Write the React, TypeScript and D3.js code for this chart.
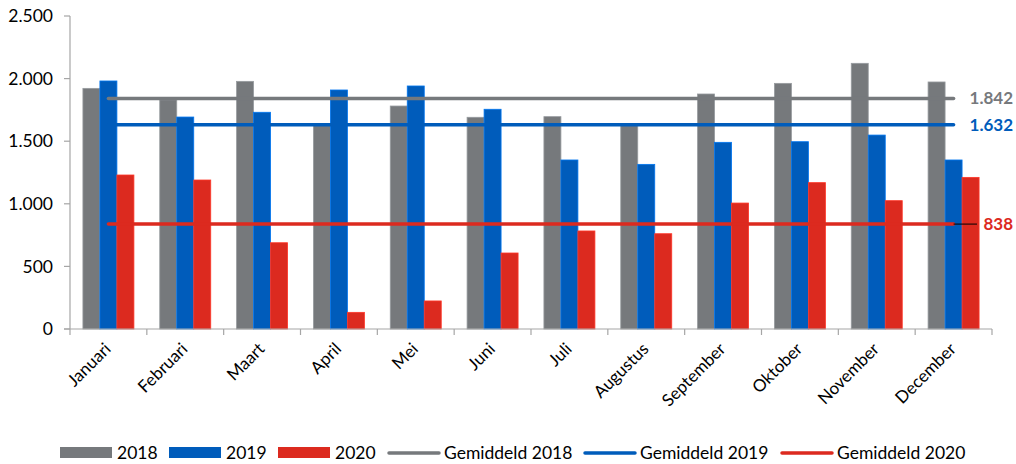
import React from "react";
import * as d3 from "d3";

const months = ["Januari","Februari","Maart","April","Mei","Juni","Juli","Augustus","September","Oktober","November","December"];
const series = ["2018","2019","2020"];
const values2018 = [1922,1830,1978,1625,1781,1691,1696,1635,1877,1962,2122,1973];
const values2019 = [1981,1693,1731,1909,1941,1755,1350,1315,1491,1496,1549,1350];
const values2020 = [1230,1190,689,133,224,607,783,761,1006,1169,1025,1211];
const averages = [1842,1632,838];
const averageLabels = ["1.842","1.632","838"];
const yTicks = [0,500,1000,1500,2000,2500];
const colors = ["#76797c","#005cbb","#dc2a1f"];
const legendItems = ["2018","2019","2020","Gemiddeld 2018","Gemiddeld 2019","Gemiddeld 2020"];

const W = 1016, H = 464;
const FONT = "Lato, 'Noto Sans', sans-serif";

export default function App() {
  const x0 = d3.scaleBand<string>().domain(months).range([70, 992]).paddingInner(0).paddingOuter(0);
  const x1 = d3.scaleBand<string>().domain(series).range([0, x0.bandwidth()]).paddingInner(0).paddingOuter(0.76);
  const y = d3.scaleLinear().domain([0, 2500]).range([329, 16]);
  const data = [values2018, values2019, values2020];
  const fmt = (v: number) => d3.format(",")(v).replace(/,/g, ".");
  const cx = (m: string) => (x0(m) as number) + x0.bandwidth() / 2;
  const avgX1 = cx(months[0]);
  const avgX2 = cx(months[months.length - 1]);

  const legendX = [60, 169, 278, 387, 583, 780];

  return (
    <svg width={W} height={H} style={{ position: "absolute", left: 0, top: 0, background: "#fff" }} fontFamily={FONT}>
      <rect x={0} y={0} width={W} height={H} fill="#fff" />
      {/* bars */}
      {series.map((s, si) => (
        <g key={s}>
          {months.map((m, mi) => {
            const v = data[si][mi];
            const bx = (x0(m) as number) + (x1(s) as number);
            return (
              <rect key={m} x={bx} y={y(v)} width={x1.bandwidth()} height={y(0) - y(v)}
                fill={colors[si]} stroke={d3.color(colors[si])!.brighter(0.7).toString()} strokeWidth={0.8} />
            );
          })}
        </g>
      ))}
      {/* average lines */}
      {averages.map((a, i) => (
        <line key={i} x1={avgX1} x2={avgX2} y1={y(a)} y2={y(a)} stroke={colors[i]} strokeWidth={3.5} strokeLinecap="round" />
      ))}
      <line x1={avgX2} x2={977} y1={y(averages[2])} y2={y(averages[2])} stroke="#000" strokeWidth={1} />
      {averageLabels.map((t, i) => (
        <text key={i} x={1013} y={y(averages[i])} dy="0.35em" textAnchor="end" fontWeight="bold" fontSize={17} fill={colors[i]}>{t}</text>
      ))}
      {/* y axis */}
      <line x1={70} x2={70} y1={16} y2={329} stroke="#a6a6a6" strokeWidth={1.2} />
      {yTicks.map(t => (
        <g key={t}>
          <line x1={64} x2={70} y1={y(t)} y2={y(t)} stroke="#a6a6a6" strokeWidth={1.2} />
          <text x={53} y={y(t)} dy="0.35em" textAnchor="end" fontSize={17.5} fill="#000">{fmt(t)}</text>
        </g>
      ))}
      {/* x axis */}
      <line x1={64} x2={992} y1={329} y2={329} stroke="#a6a6a6" strokeWidth={1.2} />
      {[...months.map(m => x0(m) as number), 992].map((tx, i) => (
        <line key={i} x1={tx} x2={tx} y1={329} y2={335} stroke="#a6a6a6" strokeWidth={1.2} />
      ))}
      {months.map(m => (
        <text key={m} transform={`translate(${cx(m) + 3.5},${350}) rotate(-45)`} textAnchor="end" fontSize={17} fill="#000">{m}</text>
      ))}
      {/* legend */}
      {legendItems.map((t, i) => (
        <g key={t}>
          {i < 3 ? (
            <rect x={legendX[i]} y={447} width={52} height={11} fill={colors[i]} />
          ) : (
            <line x1={legendX[i] + 2} x2={legendX[i] + 52} y1={453} y2={453} stroke={colors[i - 3]} strokeWidth={3.5} strokeLinecap="round" />
          )}
          <text x={legendX[i] + 57} y={453} dy="0.36em" fontSize={17.5} fill="#000">{t}</text>
        </g>
      ))}
    </svg>
  );
}
